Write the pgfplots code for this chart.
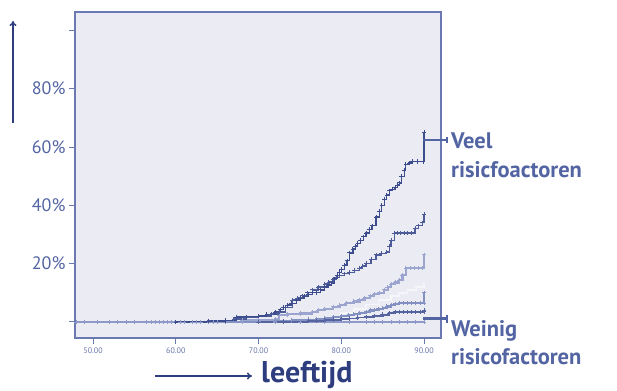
\documentclass[border=0pt]{standalone}
\usepackage{pgfplots}
\pgfplotsset{compat=1.18}
\usepackage{fontspec}
\setmainfont{PT Sans}
\usetikzlibrary{arrows.meta}
\definecolor{bgcol}{HTML}{EBECF3}
\definecolor{axiscol}{HTML}{6B79B2}
\definecolor{labcol}{HTML}{5364A3}
\definecolor{tickcol}{HTML}{6674AA}
\definecolor{darkcol}{HTML}{2E3D7E}
\definecolor{c1}{HTML}{3D4C8C}
\definecolor{c2}{HTML}{4D5C99}
\definecolor{c3}{HTML}{9CA5CF}
\definecolor{c4}{HTML}{F5F6FA}
\definecolor{c5}{HTML}{8390C2}
\definecolor{c6}{HTML}{55649F}
\definecolor{c7}{HTML}{8F9AC8}
\begin{document}
\begin{tikzpicture}[x=1pt,y=1pt]
\path[use as bounding box] (0,0) rectangle (617,390);
\begin{axis}[at={(75pt,52pt)}, anchor=south west, scale only axis,
  width=366pt, height=326pt,
  xmin=47.82, xmax=92.05, ymin=-0.055, ymax=1.063,
  axis background/.style={fill=bgcol},
  axis line style={axiscol, line width=1.3pt},
  xtick={50,60,70,80,90}, xticklabels={50.00,60.00,70.00,80.00,90.00},
  ytick={0,0.2,0.4,0.6,0.8,1.0}, yticklabels={,20\%,40\%,60\%,80\%,},
  xtick pos=bottom, ytick pos=left,
  tick align=outside, major tick length=6pt,
  tick style={axiscol, line width=1pt},
  xticklabel style={font=\fontsize{8}{9}\selectfont, text=tickcol},
  yticklabel style={font=\fontsize{18}{19}\selectfont, text=labcol},
  every axis plot/.append style={const plot, line width=1.3pt, mark=+, mark size=2.2pt, mark options={line width=0.8pt}},
]
% curve 7: flat (weinig)
\addplot[c7] coordinates {(48,0)(49,0)(50.5,0)(52,0)(53,0)(54,0)(55,0)(56.5,0)(57,0)(57.5,0)(58,0)(58.5,0)(59,0)(59.5,0)(60,0)(60.5,0)(61,0)(62,0)(62.5,0)(63,0)(64,0)(64.5,0)(65,0)(66,0)(68,0)(70,0)(72,0)(75,0)(78,0)(81,0)(83,0)(84,0)(85,0)(86,0)(87,0)(88,0)(89,0)(90,0)};
% curve 4: faint white
\addplot[c4, mark=none, line width=1.8pt] coordinates {(74,0)(76,0.006)(78,0.015)(80,0.03)(81.5,0.045)(83,0.06)(84.5,0.075)(86,0.09)(87,0.10)(88,0.11)(89,0.12)(90,0.135)};
% curve 3
\addplot[c3, line width=2.2pt] coordinates {(66,0)(68,0.005)(70,0.008)(72,0.01)(72.5,0.024)(73.5,0.026)(75,0.029)(76.5,0.034)(77.2,0.04)(78,0.045)(79,0.052)(79.8,0.058)(80.6,0.064)(81.5,0.07)(82.2,0.076)(82.8,0.082)(83.5,0.09)(84,0.095)(84.6,0.10)(85.2,0.11)(85.6,0.12)(86,0.13)(86.5,0.135)(87,0.144)(87.4,0.16)(87.8,0.185)(88.3,0.185)(88.8,0.185)(89.3,0.185)(89.8,0.185)(90,0.23)};
% curve 5
\addplot[c5, line width=2.2pt] coordinates {(66,0)(70,0.001)(72,0.002)(74,0.005)(76,0.008)(77,0.01)(78,0.013)(79,0.016)(80,0.02)(80.8,0.024)(81.5,0.027)(82.2,0.031)(83,0.035)(83.5,0.039)(84,0.042)(84.5,0.045)(85,0.048)(85.5,0.053)(86,0.058)(86.5,0.062)(87,0.065)(87.5,0.065)(88,0.065)(88.5,0.065)(89,0.065)(89.5,0.065)(90,0.065)(90,0.10)};
% curve 6
\addplot[c6, line width=1.8pt] coordinates {(70,0)(73,0.001)(76,0.003)(77,0.004)(78,0.006)(79,0.008)(80,0.01)(81,0.012)(82,0.015)(83,0.018)(84,0.021)(85,0.025)(85.8,0.03)(86.5,0.035)(87,0.035)(87.5,0.035)(88,0.035)(88.5,0.035)(89,0.035)(89.5,0.035)(90,0.035)(90,0.04)};
% curve 2
\addplot[c2] coordinates {(60,0)(64,0.004)(67,0.01)(68.5,0.015)(70,0.02)(71.5,0.027)(72.5,0.034)(73.3,0.05)(74.1,0.075)(74.7,0.082)(75.3,0.09)(75.9,0.10)(76.5,0.11)(77.2,0.12)(78,0.13)(78.5,0.137)(79,0.145)(79.4,0.152)(79.8,0.16)(80.4,0.165)(81,0.17)(81.6,0.177)(82.2,0.185)(82.6,0.192)(83,0.20)(83.6,0.215)(84.2,0.23)(84.8,0.235)(85.5,0.24)(85.8,0.26)(86,0.28)(86.4,0.305)(86.8,0.305)(87.2,0.305)(87.6,0.305)(88,0.305)(88.5,0.305)(88.9,0.32)(89.3,0.33)(89.8,0.34)(90,0.37)};
% curve 1
\addplot[c1] coordinates {(60,0)(64,0.003)(66,0.005)(67.3,0.017)(68.5,0.018)(70,0.02)(71,0.025)(72,0.034)(72.6,0.042)(73,0.05)(73.5,0.058)(74,0.064)(74.6,0.075)(75,0.08)(75.5,0.088)(76,0.095)(76.5,0.10)(77,0.10)(77.5,0.11)(78,0.12)(78.4,0.127)(78.8,0.134)(79.2,0.148)(79.5,0.16)(79.8,0.17)(80,0.18)(80.4,0.195)(80.7,0.21)(81,0.237)(81.4,0.25)(81.7,0.26)(82,0.27)(82.3,0.28)(82.7,0.292)(83,0.305)(83.4,0.318)(83.7,0.33)(84.2,0.36)(84.6,0.38)(84.9,0.40)(85.2,0.42)(85.5,0.435)(85.8,0.45)(86.2,0.455)(86.5,0.46)(86.8,0.47)(87,0.477)(87.3,0.50)(87.6,0.52)(87.8,0.54)(88.2,0.545)(88.6,0.55)(89.2,0.55)(89.9,0.55)(90,0.65)};
\end{axis}
% brackets
\draw[labcol, line width=2pt] (423,250) -- (447,250);
\draw[labcol, line width=1.2pt] (447,247) -- (447,253);
\draw[labcol, line width=3pt] (423,71) -- (447,71);
\draw[labcol, line width=1.2pt] (447,67) -- (447,75);
% labels
\node[anchor=base west, inner sep=0pt, font=\bfseries\fontsize{22.5}{24}\selectfont, text=labcol] at (451,241) {Veel};
\node[anchor=base west, inner sep=0pt, font=\bfseries\fontsize{22.5}{24}\selectfont, text=labcol] at (451,212) {risicfoactoren};
\node[anchor=base west, inner sep=0pt, font=\bfseries\fontsize{22.5}{24}\selectfont, text=labcol] at (451,53) {Weinig};
\node[anchor=base west, inner sep=0pt, font=\bfseries\fontsize{22.5}{24}\selectfont, text=labcol] at (451,25) {risicofactoren};
\node[anchor=base west, inner sep=0pt, font=\bfseries\fontsize{30}{32}\selectfont, text=darkcol] at (261,8) {leeftijd};
% arrows
\draw[darkcol, line width=1.5pt, -{To[length=5pt,width=7pt]}] (155,14) -- (252,14);
\draw[darkcol, line width=1.5pt, -{To[length=5pt,width=7pt]}] (13,267) -- (13,369);
\end{tikzpicture}
\end{document}
